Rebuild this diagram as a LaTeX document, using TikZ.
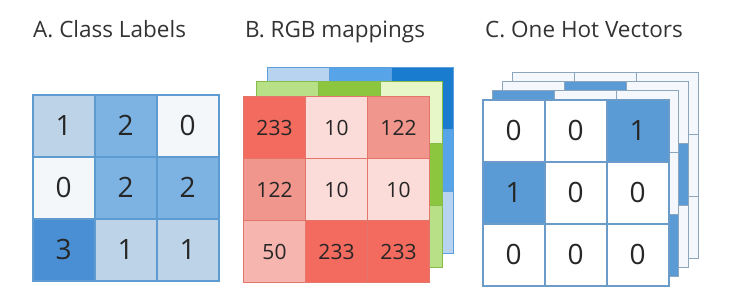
\documentclass[tikz,border=0pt]{standalone}
\usepackage{fontspec}
\setmainfont{Open Sans}
\definecolor{lblline}{HTML}{5E9BD0}
\definecolor{lbl0}{HTML}{F4F7FA}
\definecolor{lbl1}{HTML}{BDD3E8}
\definecolor{lbl2}{HTML}{7DB3E2}
\definecolor{lbl3}{HTML}{4A8FD4}
\definecolor{redline}{HTML}{E2766B}
\definecolor{red233}{HTML}{F36A5E}
\definecolor{red122}{HTML}{F0968C}
\definecolor{red10}{HTML}{FCDCD9}
\definecolor{red50}{HTML}{F6B5AE}
\definecolor{grnline}{HTML}{86BD4A}
\definecolor{grn0}{HTML}{E8F7C8}
\definecolor{grn1}{HTML}{B8E086}
\definecolor{grn2}{HTML}{8CC63E}
\definecolor{grn3}{HTML}{D0ECAB}
\definecolor{bluline}{HTML}{5D9FDC}
\definecolor{blu0}{HTML}{1A7CCF}
\definecolor{blu1}{HTML}{B7D3EF}
\definecolor{blu2}{HTML}{57A5E8}
\definecolor{blu3}{HTML}{8CC0EC}
\definecolor{hotline}{HTML}{6B9BC8}
\definecolor{backline}{HTML}{8CA6BE}
\definecolor{hot}{HTML}{5B9BD5}
\definecolor{cold}{HTML}{F4F8FC}
\begin{document}
\begin{tikzpicture}[x=1pt, y=-1pt,
    title/.style={anchor=base west, inner sep=0pt, font=\fontsize{22.5}{25}\selectfont, text=black!80},
    cell/.style={draw=#1, line width=1.5pt, minimum size=62pt, inner sep=0pt, anchor=north west,
        font=\fontsize{28}{30}\selectfont, text=black!85},
    small cell/.style={cell=#1, line width=1pt, font=\fontsize{21}{24}\selectfont}]
    \useasboundingbox (0,0) rectangle (729,308);
    \node[title] (title-a) at (33,37) {A. Class Labels};
    \node[title] (title-b) at (245,37) {B. RGB mappings};
    \node[title] (title-c) at (485,37) {C. One Hot Vectors};
    % A. class labels
    \foreach \row [count=\r from 0] in {{1,2,0},{0,2,2},{3,1,1}}
        \foreach \v [count=\c from 0] in \row
            \node[cell=lblline, fill=lbl\v] (lbl-\r-\c) at (32+62*\c, 94+62*\r) {\v};
    % B. rgb layers, back to front
    \foreach \row [count=\r from 0] in {{1,2,0},{0,2,2},{3,1,1}}
        \foreach \v [count=\c from 0] in \row
            \node[small cell=bluline, fill=blu\v] (blu-\r-\c) at (267+62*\c, 67+62*\r) {};
    \foreach \row [count=\r from 0] in {{1,2,0},{0,2,2},{3,1,1}}
        \foreach \v [count=\c from 0] in \row
            \node[small cell=grnline, fill=grn\v] (grn-\r-\c) at (256+62*\c, 81+62*\r) {};
    \foreach \row [count=\r from 0] in {{233,10,122},{122,10,10},{50,233,233}}
        \foreach \v [count=\c from 0] in \row
            \node[small cell=redline, fill=red\v] (red-\r-\c) at (243+62*\c, 96+62*\r) {\v};
    % C. one hot layers, back to front
    \foreach \k/\x/\y in {3/512/72, 2/502/81, 1/492/90}
        \foreach \row [count=\r from 0] in {{1,2,0},{0,2,2},{3,1,1}}
            \foreach \v [count=\c from 0] in \row {
                \ifnum\v=\k \def\fc{hot}\else\def\fc{cold}\fi
                \node[cell=backline, line width=1.3pt, fill=\fc] (hot\k-\r-\c) at (\x+62*\c, \y+62*\r) {};
            }
    \foreach \row [count=\r from 0] in {{0,0,1},{1,0,0},{0,0,0}}
        \foreach \v [count=\c from 0] in \row {
            \ifnum\v=1 \def\fc{hot}\else\def\fc{white}\fi
            \node[cell=hotline, fill=\fc] (hot0-\r-\c) at (482+62*\c, 99+62*\r) {\v};
        }
\end{tikzpicture}
\end{document}
